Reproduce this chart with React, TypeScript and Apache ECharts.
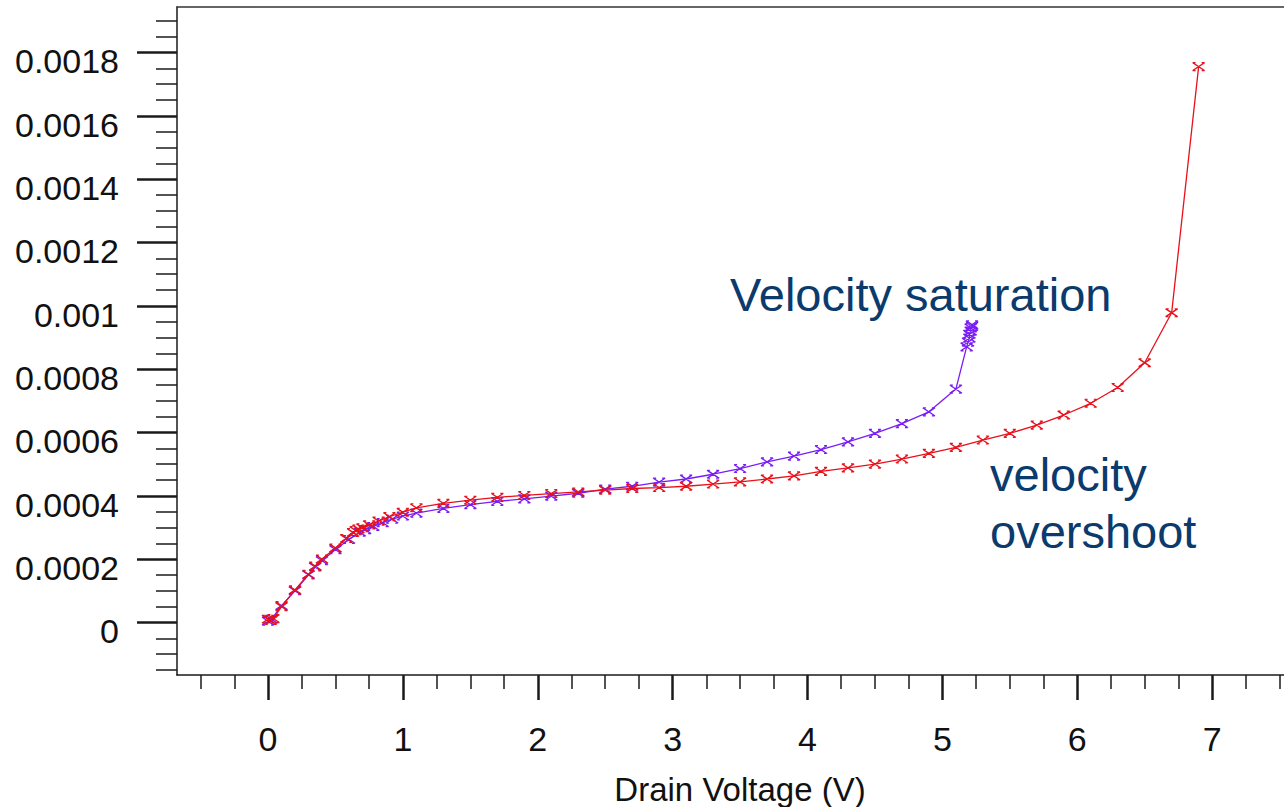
import React, { useEffect, useRef } from "react";
import * as echarts from "echarts";

// Tick positions and labels
const xTicks = [0, 1, 2, 3, 4, 5, 6, 7];
const yTicks = [0, 0.0002, 0.0004, 0.0006, 0.0008, 0.001, 0.0012, 0.0014, 0.0016, 0.0018];
const yTickLabels = ["0", "0.0002", "0.0004", "0.0006", "0.0008", "0.001", "0.0012", "0.0014", "0.0016", "0.0018"];

// Velocity-saturation model: drain voltage (V) and drain current (A)
const satV = [0, 0.025, 0.1, 0.2, 0.3, 0.35, 0.4, 0.5, 0.6, 0.68, 0.72, 0.78, 0.85, 0.92, 1.0, 1.1, 1.3, 1.5, 1.7, 1.9, 2.1, 2.3, 2.5, 2.7, 2.9, 3.1, 3.3, 3.5, 3.7, 3.9, 4.1, 4.3, 4.5, 4.7, 4.9, 5.1, 5.18, 5.19, 5.2, 5.2, 5.21, 5.21, 5.22, 5.22];
const satI = [0.000004, 0.00001, 0.000053, 0.0001, 0.00015, 0.000175, 0.000195, 0.00023, 0.000262, 0.000285, 0.000293, 0.000303, 0.000315, 0.000326, 0.000336, 0.000345, 0.00036, 0.000372, 0.000382, 0.00039, 0.000399, 0.000408, 0.000421, 0.00043, 0.000443, 0.000453, 0.000468, 0.000486, 0.000507, 0.000525, 0.000546, 0.00057, 0.000597, 0.000628, 0.000665, 0.000737, 0.00087, 0.000885, 0.000898, 0.00091, 0.00092, 0.00093, 0.000935, 0.00094];

// Velocity-overshoot model: drain voltage (V) and drain current (A)
const ovsV = [0, 0.02, 0.04, 0.1, 0.2, 0.3, 0.35, 0.4, 0.5, 0.58, 0.63, 0.65, 0.67, 0.7, 0.75, 0.82, 0.9, 1.0, 1.1, 1.3, 1.5, 1.7, 1.9, 2.1, 2.3, 2.5, 2.7, 2.9, 3.1, 3.3, 3.5, 3.7, 3.9, 4.1, 4.3, 4.5, 4.7, 4.9, 5.1, 5.3, 5.5, 5.7, 5.9, 6.1, 6.3, 6.5, 6.7, 6.9];
const ovsI = [0.00001, 0.000006, 0.000012, 0.00005, 0.000103, 0.000152, 0.000178, 0.0002, 0.000235, 0.000265, 0.000284, 0.00029, 0.000295, 0.000299, 0.000308, 0.00032, 0.000334, 0.000348, 0.000362, 0.000376, 0.000386, 0.000395, 0.000401, 0.000407, 0.000412, 0.000418, 0.000423, 0.000426, 0.00043, 0.000437, 0.000444, 0.000453, 0.000463, 0.000477, 0.000488, 0.0005, 0.000516, 0.000534, 0.000553, 0.000576, 0.000597, 0.000623, 0.000655, 0.000692, 0.000742, 0.00082, 0.000978, 0.001755];

const X_MIN = -0.675;
const X_MAX = 7.533;
const Y_MIN = -0.000166;
const Y_MAX = 0.0019435;

// Plot area in pixels
const GRID_TOP = 7;
const GRID_BOTTOM = 132;
const CHART_H = 807;
// The tick labels of the current axis sit a few pixels below their ticks
const Y_LABEL_DROP_PX = 9;
const yPerPx = (Y_MAX - Y_MIN) / (CHART_H - GRID_TOP - GRID_BOTTOM);
const Y_LABEL_SHIFT = Y_LABEL_DROP_PX * yPerPx;

// Minor ticks every quarter volt and every 0.00005 A, skipping major positions
const xMinor: number[] = [];
for (let k = -2; k <= 30; k++) {
  if (k % 4 !== 0) xMinor.push(k / 4);
}
const yMinor: number[] = [];
for (let k = -3; k <= 38; k++) {
  if (k % 4 !== 0) yMinor.push(k * 0.00005);
}

const FONT = '"Liberation Sans", Arial, Helvetica, sans-serif';
const AXIS_COLOR = "#1a1a1a";
const TEXT_BLUE = "#0b3a6d";
const RED = "#e8101a";
const VIOLET = "#7a1cf5";

const cross = "path://M0,0L12,8M0,8L12,0M0,0L3,0M9,0L12,0M0,8L3,8M9,8L12,8";

const zip = (xs: number[], ys: number[]) => xs.map((x, i) => [x, ys[i]]);

function buildOption(): echarts.EChartsOption {
  const yLabel = (v: number) => {
    const i = yTicks.findIndex((t) => Math.abs(t - v) < 1e-10);
    return i >= 0 ? yTickLabels[i] : "";
  };
  const hidden = { show: false };
  return {
    animation: false,
    backgroundColor: "#ffffff",
    grid: { left: 177, top: GRID_TOP, right: 0, bottom: GRID_BOTTOM, containLabel: false },
    xAxis: [
      {
        type: "value",
        min: X_MIN,
        max: X_MAX,
        position: "bottom",
        axisLine: { show: true, onZero: false, lineStyle: { color: AXIS_COLOR, width: 1.5 } },
        axisTick: { show: true, customValues: xTicks, length: 25, lineStyle: { color: AXIS_COLOR, width: 2.5 } },
        axisLabel: {
          show: true,
          customValues: xTicks,
          margin: 47,
          fontSize: 34,
          fontFamily: FONT,
          color: "#111",
        },
        splitLine: hidden,
      },
      {
        type: "value",
        min: X_MIN,
        max: X_MAX,
        position: "bottom",
        axisLine: { show: false, onZero: false },
        axisTick: { show: true, customValues: xMinor, length: 14, lineStyle: { color: AXIS_COLOR, width: 1.5 } },
        axisLabel: hidden,
        splitLine: hidden,
      },
      {
        type: "value",
        min: X_MIN,
        max: X_MAX,
        position: "top",
        axisLine: { show: true, onZero: false, lineStyle: { color: "#333", width: 1.5 } },
        axisTick: hidden,
        axisLabel: hidden,
        splitLine: hidden,
      },
    ],
    yAxis: [
      {
        type: "value",
        min: Y_MIN,
        max: Y_MAX,
        position: "left",
        axisLine: { show: true, onZero: false, lineStyle: { color: AXIS_COLOR, width: 1.5 } },
        axisTick: { show: true, customValues: yTicks, length: 40, lineStyle: { color: AXIS_COLOR, width: 2.5 } },
        axisLabel: hidden,
        splitLine: hidden,
      },
      {
        type: "value",
        min: Y_MIN,
        max: Y_MAX,
        position: "left",
        axisLine: { show: false, onZero: false },
        axisTick: { show: true, customValues: yMinor, length: 21, lineStyle: { color: AXIS_COLOR, width: 1.5 } },
        axisLabel: hidden,
        splitLine: hidden,
      },
      {
        // label-only axis, offset so each label sits slightly under its tick
        type: "value",
        min: Y_MIN + Y_LABEL_SHIFT,
        max: Y_MAX + Y_LABEL_SHIFT,
        position: "left",
        axisLine: { show: false, onZero: false },
        axisTick: hidden,
        axisLabel: {
          show: true,
          customValues: yTicks,
          formatter: yLabel,
          margin: 58,
          fontSize: 34,
          fontFamily: FONT,
          color: "#111",
        },
        splitLine: hidden,
      },
    ],
    series: [
      {
        name: "Velocity saturation",
        type: "line",
        xAxisIndex: 0,
        yAxisIndex: 0,
        data: zip(satV, satI),
        symbol: cross,
        symbolSize: [12, 8],
        lineStyle: { color: VIOLET, width: 1.3 },
        itemStyle: { color: VIOLET, borderColor: VIOLET, borderWidth: 1.4 },
        emphasis: { disabled: true },
        z: 3,
      },
      {
        name: "velocity overshoot",
        type: "line",
        xAxisIndex: 0,
        yAxisIndex: 0,
        data: zip(ovsV, ovsI),
        symbol: cross,
        symbolSize: [12, 8],
        lineStyle: { color: RED, width: 1.3 },
        itemStyle: { color: RED, borderColor: RED, borderWidth: 1.4 },
        emphasis: { disabled: true },
        z: 4,
      },
    ],
    graphic: [
      {
        type: "text",
        x: 740,
        y: 789,
        style: {
          text: "Drain Voltage (V)",
          fontSize: 33,
          fontFamily: FONT,
          fill: "#111",
          align: "center",
          verticalAlign: "middle",
        },
      },
      {
        type: "text",
        x: 730,
        y: 294,
        style: {
          text: "Velocity saturation",
          fontSize: 47,
          fontFamily: FONT,
          fill: TEXT_BLUE,
          align: "left",
          verticalAlign: "middle",
        },
      },
      {
        type: "text",
        x: 990,
        y: 474,
        style: {
          text: "velocity",
          fontSize: 47,
          fontFamily: FONT,
          fill: TEXT_BLUE,
          align: "left",
          verticalAlign: "middle",
        },
      },
      {
        type: "text",
        x: 990,
        y: 531,
        style: {
          text: "overshoot",
          fontSize: 47,
          fontFamily: FONT,
          fill: TEXT_BLUE,
          align: "left",
          verticalAlign: "middle",
        },
      },
    ],
  };
}

export default function App() {
  const ref = useRef<HTMLDivElement>(null);
  useEffect(() => {
    document.body.style.margin = "0";
    const chart = echarts.init(ref.current!, undefined, { renderer: "svg" });
    chart.setOption(buildOption());
    return () => chart.dispose();
  }, []);
  return <div ref={ref} style={{ width: 1284, height: 807 }} />;
}
